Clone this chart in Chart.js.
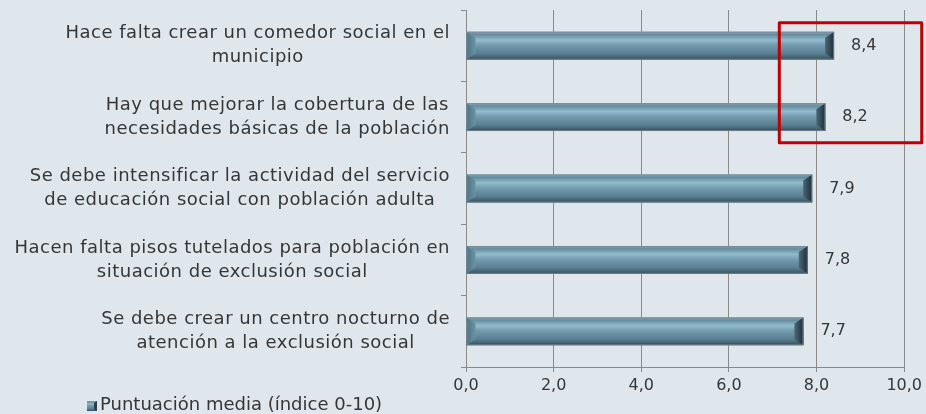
<!DOCTYPE html>
<html>
<head>
<meta charset="utf-8">
<script src="https://cdn.jsdelivr.net/npm/chart.js@4.4.1/dist/chart.umd.min.js"></script>
<style>
  html,body{margin:0;padding:0;background:#dfe6ec;}
  #wrap{width:926px;height:414px;position:relative;}
</style>
</head>
<body>
<div id="wrap"><canvas id="c" width="926" height="414"></canvas></div>
<script>
const categories = [
  ["Hace falta crear un comedor social en el", "municipio"],
  ["Hay que mejorar la cobertura de las", "necesidades básicas de la población"],
  ["Se debe intensificar la actividad del servicio", "de educación social con población adulta"],
  ["Hacen falta pisos tutelados para población en", "situación de exclusión social"],
  ["Se debe crear un centro nocturno de", "atención a la exclusión social"]
];
const seriesLabel = "Puntuación media (índice 0-10)";
const values = [8.4, 8.2, 7.9, 7.8, 7.7];
const xTicks = [0, 2, 4, 6, 8, 10];
const highlightX = [7.15, 10.4];
const highlightCats = [-0.32, 1.36];

const FONT = "'DejaVu Sans', sans-serif";
const TEXT = '#363636';
const fmt = v => v.toFixed(1).replace('.', ',');

function barGradient(ctx, top, bottom) {
  const g = ctx.createLinearGradient(0, top, 0, bottom);
  g.addColorStop(0, '#8aa9b6');
  g.addColorStop(0.1, '#658c9e');
  g.addColorStop(0.3, '#92bccd');
  g.addColorStop(0.48, '#729bad');
  g.addColorStop(0.78, '#5a8092');
  g.addColorStop(0.9, '#466674');
  g.addColorStop(1, '#324c58');
  return g;
}

const decor = {
  id: 'decor',
  afterDatasetsDraw(chart) {
    const ctx = chart.ctx;
    const meta = chart.getDatasetMeta(0);
    ctx.save();
    meta.data.forEach((bar, i) => {
      const top = bar.y - bar.height / 2, bot = bar.y + bar.height / 2;
      const L = bar.base, R = bar.x;
      const b = 9, v = 6;
      ctx.fillStyle = barGradient(ctx, top, bot);
      ctx.fillRect(L, top, R - L, bar.height);
      // right bevel
      let g = ctx.createLinearGradient(R - b, 0, R, 0);
      g.addColorStop(0, '#4a6876');
      g.addColorStop(1, '#1e2e36');
      ctx.fillStyle = g;
      ctx.beginPath();
      ctx.moveTo(R - b, top + v);
      ctx.lineTo(R, top);
      ctx.lineTo(R, bot);
      ctx.lineTo(R - b, bot - v);
      ctx.closePath();
      ctx.fill();
      // left bevel
      g = ctx.createLinearGradient(L, 0, L + b, 0);
      g.addColorStop(0, '#4f7282');
      g.addColorStop(1, '#6a93a5');
      ctx.fillStyle = g;
      ctx.beginPath();
      ctx.moveTo(L, top);
      ctx.lineTo(L + b, top + v);
      ctx.lineTo(L + b, bot - v);
      ctx.lineTo(L, bot);
      ctx.closePath();
      ctx.fill();
      ctx.strokeStyle = 'rgba(120,135,145,0.8)';
      ctx.lineWidth = 1;
      ctx.strokeRect(L + 0.5, top + 0.5, R - L - 1, bar.height - 1);
      // value label
      ctx.fillStyle = TEXT;
      ctx.font = '16px ' + FONT;
      ctx.textAlign = 'left';
      ctx.textBaseline = 'middle';
      ctx.fillText(fmt(values[i]), R + 17, bar.y);
    });
    ctx.restore();
  },
  afterDraw(chart) {
    const ctx = chart.ctx;
    const ys = chart.scales.y, xs = chart.scales.x;
    ctx.save();
    // category labels, each block centred on its own width, right-aligned
    ctx.font = '18px ' + FONT;
    ctx.letterSpacing = '0.5px';
    ctx.fillStyle = TEXT;
    ctx.textAlign = 'center';
    ctx.textBaseline = 'middle';
    const right = chart.chartArea.left - 16;
    categories.forEach((lines, i) => {
      const cy = ys.getPixelForValue(i);
      const w = Math.max(...lines.map(l => ctx.measureText(l).width));
      const cx = right - w / 2;
      const lh = 24;
      lines.forEach((l, k) => {
        ctx.fillText(l, cx, cy + (k - (lines.length - 1) / 2) * lh);
      });
    });
    ctx.letterSpacing = '0px';
    // highlight box
    const x0 = xs.getPixelForValue(highlightX[0]);
    const x1 = xs.getPixelForValue(highlightX[1]);
    const step = ys.getPixelForValue(1) - ys.getPixelForValue(0);
    const y0 = ys.getPixelForValue(0) + highlightCats[0] * step;
    const y1 = ys.getPixelForValue(0) + highlightCats[1] * step;
    ctx.strokeStyle = '#c00000';
    ctx.lineWidth = 3;
    ctx.lineJoin = 'round';
    ctx.strokeRect(x0, y0, x1 - x0, y1 - y0);
    // legend
    const lx = 87, ly = 406;
    ctx.fillStyle = barGradient(ctx, ly - 5, ly + 5);
    ctx.fillRect(lx, ly - 5, 10, 10);
    ctx.fillStyle = '#2a3f49';
    ctx.beginPath();
    ctx.moveTo(lx + 7, ly - 3); ctx.lineTo(lx + 10, ly - 5); ctx.lineTo(lx + 10, ly + 5); ctx.lineTo(lx + 7, ly + 3);
    ctx.closePath(); ctx.fill();
    ctx.fillStyle = TEXT;
    ctx.textAlign = 'left';
    ctx.font = '18px ' + FONT;
    ctx.fillText(seriesLabel, lx + 13, ly - 1);
    ctx.restore();
  }
};

new Chart(document.getElementById('c'), {
  type: 'bar',
  data: {
    labels: categories.map(c => c.join(' ')),
    datasets: [{
      label: seriesLabel,
      data: values,
      backgroundColor: '#6f96a8',
      borderWidth: 0,
      barPercentage: 0.39,
      categoryPercentage: 1.0
    }]
  },
  options: {
    indexAxis: 'y',
    responsive: false,
    animation: false,
    events: [],
    layout: { padding: { left: 0, right: 20, top: 10, bottom: 0 } },
    plugins: { legend: { display: false }, tooltip: { enabled: false } },
    scales: {
      x: {
        min: 0, max: 10,
        afterBuildTicks: (s) => { s.ticks = xTicks.map(v => ({ value: v })); },
        afterFit: (s) => { s.height = 47; },
        grid: { color: '#8a8a8a', lineWidth: 1, tickLength: 5, drawTicks: true },
        border: { display: true, color: '#8a8a8a' },
        ticks: { color: TEXT, font: { family: FONT, size: 16 }, padding: 4, callback: v => fmt(v), maxRotation: 0 }
      },
      y: {
        afterFit: (s) => { s.width = 466; },
        grid: { drawOnChartArea: false, drawTicks: true, tickLength: 5, color: '#8a8a8a', offset: true },
        border: { display: true, color: '#8a8a8a' },
        ticks: { display: false }
      }
    }
  },
  plugins: [decor]
});
</script>
</body>
</html>
